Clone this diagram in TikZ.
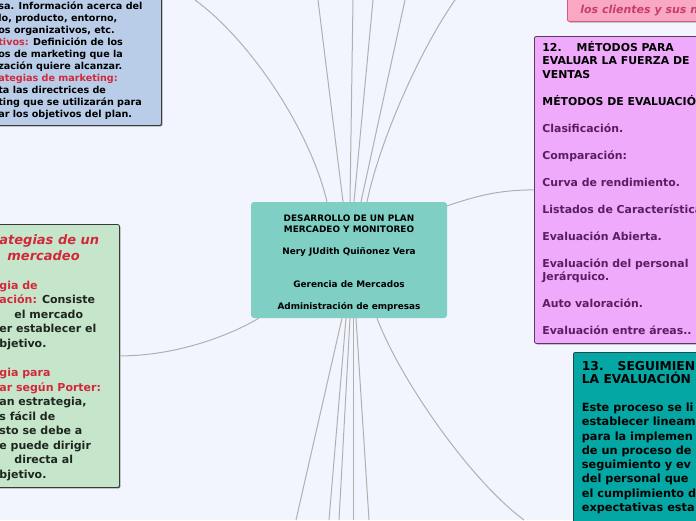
\documentclass[tikz,border=0pt]{standalone}
\usepackage{fontspec}
\setmainfont{DejaVu Sans}
\usepackage{xcolor}
\usetikzlibrary{positioning, shadows}
\definecolor{pagebg}{HTML}{F2F5FD}
\definecolor{centerfill}{HTML}{7FCFC4}
\definecolor{bluefill}{HTML}{B9CDE9}
\definecolor{greenfill}{HTML}{C6E6CC}
\definecolor{violetfill}{HTML}{EFAAFB}
\definecolor{violetline}{HTML}{5E3A66}
\definecolor{violettext}{HTML}{5A1E60}
\definecolor{tealfill}{HTML}{04A7A4}
\definecolor{tealline}{HTML}{1D4B4B}
\definecolor{pinkfill}{HTML}{F9A8C3}
\definecolor{pinkline}{HTML}{D9587F}
\definecolor{pinktext}{HTML}{C93D69}
\definecolor{mapred}{HTML}{D2283A}
\definecolor{boxline}{HTML}{3A3A3A}
\definecolor{darktext}{HTML}{1E261E}
\definecolor{linkgray}{HTML}{B0B0B0}

\tikzset{
  mapbox/.style={draw, rounded corners=2pt, line width=0.8pt, inner ysep=0pt, anchor=north west,
    drop shadow={shadow xshift=1pt, shadow yshift=-1pt, opacity=0.55, fill=black}},
  link/.style={draw=linkgray, line width=1pt},
}

\begin{document}
\begin{tikzpicture}[x=1pt, y=-1pt]
  \useasboundingbox (0,0) rectangle (696,520);
  \fill[pagebg] (0,0) rectangle (696,520);
  \clip (0,0) rectangle (696,520);

  % central topic
  \node[fill=centerfill, rounded corners=3pt, minimum width=196pt, minimum height=116pt, inner sep=0pt,
    align=center, font={\fontsize{8.9}{11}\selectfont\bfseries}] (plan) at (349,260)
    {\rule{0pt}{13pt}DESARROLLO DE UN PLAN\\ MERCADEO Y MONITOREO\\[11pt]
     Nery JUdith Quiñonez Vera\\[22pt] Gerencia de Mercados\\[11pt]
     Administración de empresas\rule[-3pt]{0pt}{0pt}};

  % branches cut by the page edge
  \node[mapbox, fill=bluefill, draw=boxline, inner xsep=6pt] (analisis) at (-8,-20)
    {\parbox[c][145pt][t]{157pt}{\raggedright\bfseries\fontsize{9.6}{12}\selectfont
     \rule{0pt}{29.5pt}sa. Información acerca del\\ lo, producto, entorno,\\ os organizativos, etc.\\
     \textcolor{mapred}{tivos:} Definición de los\\ os de marketing que la\\ zación quiere alcanzar.\\
     \textcolor{mapred}{ategias de marketing:}\\ ta las directrices de\\
     ting que se utilizarán para\\ ar los objetivos del plan.}};

  \node[mapbox, fill=greenfill, draw=boxline, inner xsep=6pt] (estrategias) at (-7,224)
    {\parbox[c][263pt][t]{114pt}{\raggedright\bfseries
     {\fontsize{13}{16}\selectfont\itshape\color{mapred}\rule{0pt}{20.5pt}ategias de un\\\hspace*{8pt}mercadeo\par}
     \vspace{14pt}
     {\fontsize{11}{14.5}\selectfont\color{darktext}
     \textcolor{mapred}{gia de}\\ \textcolor{mapred}{ación:} Consiste\\ \hspace*{15pt}el mercado\\
     er establecer el\\ bjetivo.\\[15pt]
     \textcolor{mapred}{gia para}\\ \textcolor{mapred}{ar según Porter:}\\ an estrategia,\\ s fácil de\\
     sto se debe a\\ e puede dirigir\\ \hspace*{15pt}directa al\\ bjetivo.\par}}};

  \node[mapbox, fill=pinkfill, draw=pinkline, inner xsep=13pt] (clientes) at (567,-40)
    {\parbox[c][61pt][t]{150pt}{\raggedright\bfseries\itshape\fontsize{11}{14}\selectfont\color{pinktext}
     \rule{0pt}{53pt}los clientes y sus n}};

  \node[mapbox, fill=violetfill, draw=violetline, inner xsep=8pt] (metodos) at (534,36)
    {\parbox[c][307pt][t]{180pt}{\raggedright\bfseries\fontsize{10.9}{13.5}\selectfont
     \rule{0pt}{15pt}12.\hspace{15pt}MÉTODOS PARA\\ EVALUAR LA FUERZA DE\\ VENTAS\\[13.5pt]
     MÉTODOS DE EVALUACIÓN\\[13.5pt]
     \color{violettext}Clasificación.\\[13.5pt] Comparación:\\[13.5pt] Curva de rendimiento.\\[13.5pt]
     Listados de Características\\[13.5pt] Evaluación Abierta.\\[13.5pt]
     Evaluación del personal\\ Jerárquico.\\[13.5pt] Auto valoración.\\[13.5pt]
     Evaluación entre áreas..}};

  \node[mapbox, fill=tealfill, draw=tealline, inner xsep=8.5pt] (seguimiento) at (573,352)
    {\parbox[c][200pt][t]{160pt}{\raggedright\bfseries
     {\fontsize{12.3}{13}\selectfont\rule{0pt}{18pt}13.\hspace{14pt}SEGUIMIEN\\ LA EVALUACIÓN\par}
     \vspace{13.7pt}
     {\fontsize{11.3}{14.3}\selectfont Este proceso se li\\ establecer lineam\\ para la implemen\\
     de un proceso de\\ seguimiento y ev\\ del personal que\\ el cumplimiento d\\ expectativas esta\par}}};

  % free ends of the links that leave the page
  \coordinate (t1) at (195,0);
  \coordinate (t2) at (318,0);
  \coordinate (t3) at (353,0);
  \coordinate (t4) at (373,0);
  \coordinate (t5) at (405,0);
  \coordinate (t6) at (455,0);
  \coordinate (b1) at (296,520);
  \coordinate (b2) at (329,520);
  \coordinate (b3) at (339,520);
  \coordinate (b4) at (353,520);
  \coordinate (b5) at (369,520);
  \coordinate (b6) at (524,520);

  % links
  \draw[link] ([xshift=-22pt]plan.north) .. controls +(-17,-72) and +(55,40) .. (t1);
  \draw[link] ([xshift=-6pt]plan.north) -- (t2);
  \draw[link] ([xshift=1pt]plan.north) -- (t3);
  \draw[link] ([xshift=5pt]plan.north) -- (t4);
  \draw[link] ([xshift=12pt]plan.north) -- (t5);
  \draw[link] ([xshift=18pt]plan.north) .. controls +(13,-62) and +(-35,50) .. (t6);
  \draw[link] ([xshift=-7pt]plan.south) -- (b1);
  \draw[link] ([xshift=-3pt]plan.south) -- (b2);
  \draw[link] ([xshift=1pt]plan.south) -- (b3);
  \draw[link] ([xshift=4pt]plan.south) -- (b4);
  \draw[link] ([xshift=7pt]plan.south) -- (b5);
  \draw[link] ([xshift=28pt]plan.south) .. controls +(23,61) and +(-54,-40) .. (b6);
  \draw[link] ([yshift=-4pt]plan.north east) .. controls +(30,-10) and +(-35,0) .. (metodos.west);
  \draw[link] ([xshift=8pt]plan.south west) .. controls +(-25,15) and +(60,0) .. (estrategias.east);
\end{tikzpicture}
\end{document}
